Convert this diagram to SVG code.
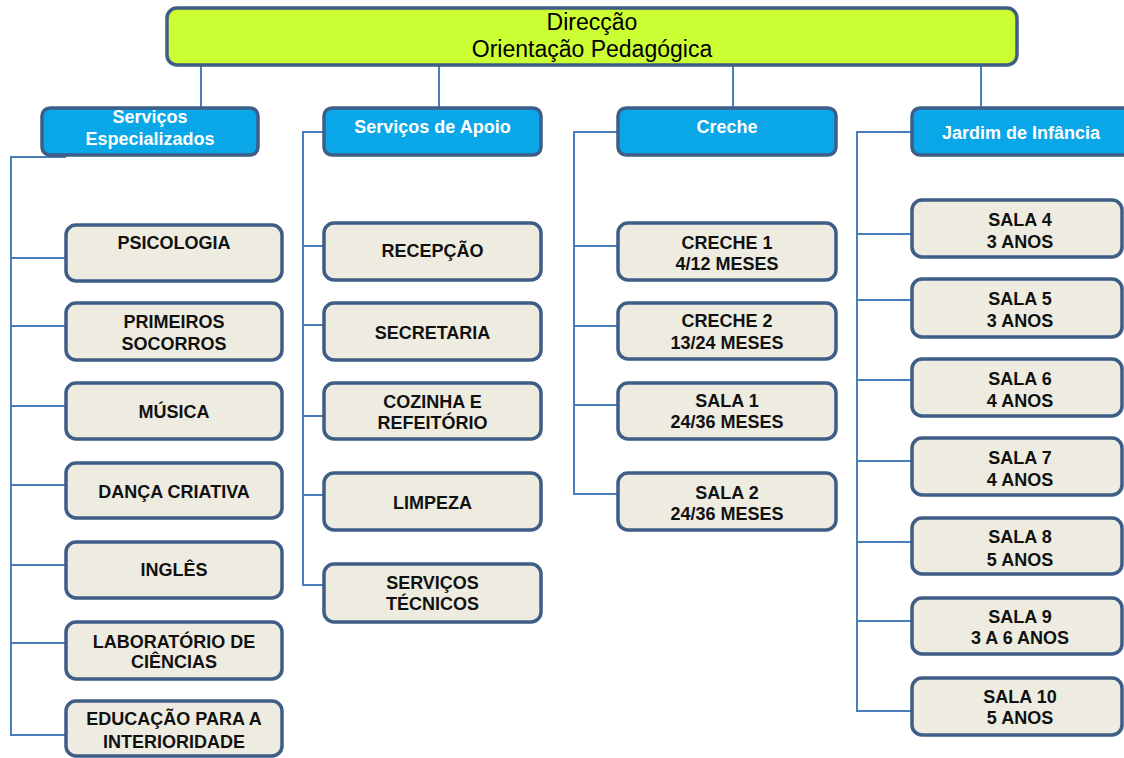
<svg xmlns="http://www.w3.org/2000/svg" width="1124" height="758" viewBox="0 0 1124 758">
<style>
.top{fill:#CCFF33;stroke:#3E5D87;stroke-width:3.5}
.hd{fill:#0AA7E8;stroke:#3E5D87;stroke-width:3.5}
.bx{fill:#EEECE1;stroke:#3E5D87;stroke-width:3.5}
.ln{fill:none;stroke:#4A7EBB;stroke-width:2}
text{font-family:"Liberation Sans",Arial,sans-serif;text-anchor:middle}
.tt{font-size:23px;fill:#000}
.ht{font-size:18px;font-weight:bold;fill:#fff}
.ct{font-size:18px;font-weight:bold;fill:#111}
</style>
<rect width="1124" height="758" fill="#fff"/>
<g id="connectors">
<path class="ln" d="M201 65V108M439 65V108M733 65V108M981 65V108"/>
<path class="ln" d="M66 157H11V735H66M11 258H66M11 326H66M11 406H66M11 485H66M11 565H66M11 643H66"/>
<path class="ln" d="M324 132H303V585H324M303 246H324M303 325H324M303 416H324M303 495H324"/>
<path class="ln" d="M618 132H574V494H618M574 246H618M574 326H618M574 405H618"/>
<path class="ln" d="M912 132H857V711H912M857 234H912M857 300H912M857 380H912M857 461H912M857 542H912M857 621H912"/>
</g>
<g id="direccao"><rect class="top" x="167" y="8" width="850" height="57" rx="10"/><text class="tt" x="592" y="30">Direcção</text><text class="tt" x="592" y="57">Orientação Pedagógica</text></g>
<g id="servicos-especializados"><rect class="hd" x="42" y="108" width="216" height="47" rx="8"/><text class="ht" x="150" y="123">Serviços</text><text class="ht" x="150" y="144.5">Especializados</text></g>
<g id="servicos-apoio"><rect class="hd" x="324" y="108" width="217" height="47" rx="8"/><text class="ht" x="432.5" y="132.5">Serviços de Apoio</text></g>
<g id="creche"><rect class="hd" x="618" y="108" width="218" height="47" rx="8"/><text class="ht" x="727" y="132.5">Creche</text></g>
<g id="jardim"><rect class="hd" x="912" y="108" width="220" height="47" rx="8"/><text class="ht" x="1021" y="139">Jardim de Infância</text></g>
<g id="psicologia"><rect class="bx" x="66" y="225" width="216" height="56" rx="10"/><text class="ct" x="174" y="248.5">PSICOLOGIA</text></g>
<g id="primeiros-socorros"><rect class="bx" x="66" y="303" width="216" height="57" rx="10"/><text class="ct" x="174" y="327.5">PRIMEIROS</text><text class="ct" x="174" y="349.5">SOCORROS</text></g>
<g id="musica"><rect class="bx" x="66" y="383" width="216" height="56" rx="10"/><text class="ct" x="174" y="418">MÚSICA</text></g>
<g id="danca"><rect class="bx" x="66" y="463" width="216" height="55" rx="10"/><text class="ct" x="174" y="497.5">DANÇA CRIATIVA</text></g>
<g id="ingles"><rect class="bx" x="66" y="542" width="216" height="56" rx="10"/><text class="ct" x="174" y="576">INGLÊS</text></g>
<g id="laboratorio"><rect class="bx" x="66" y="622" width="216" height="57" rx="10"/><text class="ct" x="174" y="647.5">LABORATÓRIO DE</text><text class="ct" x="174" y="668">CIÊNCIAS</text></g>
<g id="educacao"><rect class="bx" x="66" y="701" width="216" height="55" rx="10"/><text class="ct" x="174" y="724.5">EDUCAÇÃO PARA A</text><text class="ct" x="174" y="748">INTERIORIDADE</text></g>
<g id="recepcao"><rect class="bx" x="324" y="223" width="217" height="57" rx="10"/><text class="ct" x="432.5" y="256.5">RECEPÇÃO</text></g>
<g id="secretaria"><rect class="bx" x="324" y="303" width="217" height="57" rx="10"/><text class="ct" x="432.5" y="338.5">SECRETARIA</text></g>
<g id="cozinha"><rect class="bx" x="324" y="383" width="217" height="56" rx="10"/><text class="ct" x="432.5" y="407.5">COZINHA E</text><text class="ct" x="432.5" y="428.5">REFEITÓRIO</text></g>
<g id="limpeza"><rect class="bx" x="324" y="473" width="217" height="57" rx="10"/><text class="ct" x="432.5" y="508.5">LIMPEZA</text></g>
<g id="servicos-tecnicos"><rect class="bx" x="324" y="564" width="217" height="58" rx="10"/><text class="ct" x="432.5" y="588.5">SERVIÇOS</text><text class="ct" x="432.5" y="609.5">TÉCNICOS</text></g>
<g id="creche1"><rect class="bx" x="618" y="223" width="218" height="57" rx="10"/><text class="ct" x="727" y="248.5">CRECHE 1</text><text class="ct" x="727" y="269.5">4/12 MESES</text></g>
<g id="creche2"><rect class="bx" x="618" y="303" width="218" height="56" rx="10"/><text class="ct" x="727" y="326.5">CRECHE 2</text><text class="ct" x="727" y="348.5">13/24 MESES</text></g>
<g id="sala1"><rect class="bx" x="618" y="383" width="218" height="56" rx="10"/><text class="ct" x="727" y="406.5">SALA 1</text><text class="ct" x="727" y="427.5">24/36 MESES</text></g>
<g id="sala2"><rect class="bx" x="618" y="473" width="218" height="57" rx="10"/><text class="ct" x="727" y="498.5">SALA 2</text><text class="ct" x="727" y="519.5">24/36 MESES</text></g>
<g id="sala4"><rect class="bx" x="912" y="200" width="210" height="57" rx="10"/><text class="ct" x="1020" y="226">SALA 4</text><text class="ct" x="1020" y="247.5">3 ANOS</text></g>
<g id="sala5"><rect class="bx" x="912" y="279" width="210" height="58" rx="10"/><text class="ct" x="1020" y="304.5">SALA 5</text><text class="ct" x="1020" y="326.5">3 ANOS</text></g>
<g id="sala6"><rect class="bx" x="912" y="359" width="210" height="57" rx="10"/><text class="ct" x="1020" y="385">SALA 6</text><text class="ct" x="1020" y="406.5">4 ANOS</text></g>
<g id="sala7"><rect class="bx" x="912" y="438" width="210" height="57" rx="10"/><text class="ct" x="1020" y="464">SALA 7</text><text class="ct" x="1020" y="486">4 ANOS</text></g>
<g id="sala8"><rect class="bx" x="912" y="518" width="210" height="56" rx="10"/><text class="ct" x="1020" y="543">SALA 8</text><text class="ct" x="1020" y="565.5">5 ANOS</text></g>
<g id="sala9"><rect class="bx" x="912" y="598" width="210" height="56" rx="10"/><text class="ct" x="1020" y="622.5">SALA 9</text><text class="ct" x="1020" y="643.5">3 A 6 ANOS</text></g>
<g id="sala10"><rect class="bx" x="912" y="678" width="210" height="57" rx="10"/><text class="ct" x="1020" y="702.5">SALA 10</text><text class="ct" x="1020" y="723.5">5 ANOS</text></g>
</svg>
